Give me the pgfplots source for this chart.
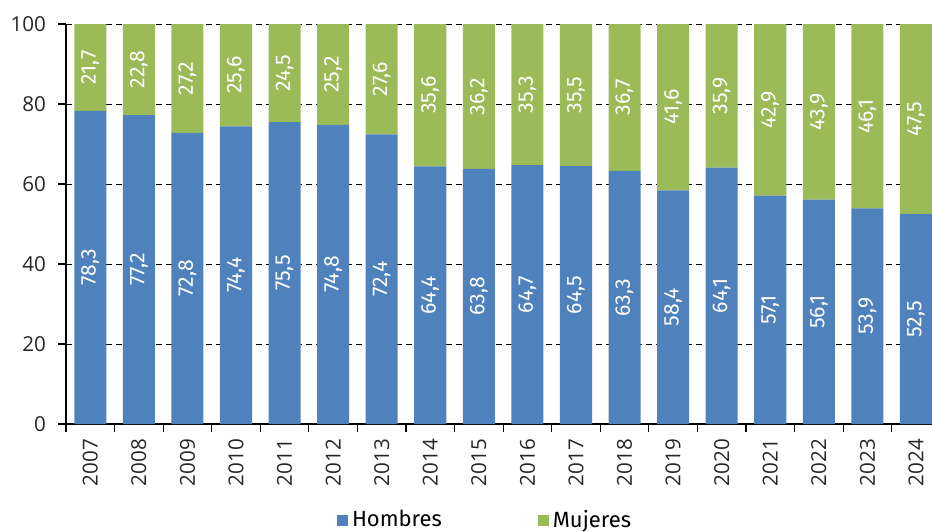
\documentclass[border=0pt]{standalone}
\usepackage{fontspec}
\setmainfont{Fira Sans}
\newfontfamily\tickfont{Open Sans}
\usepackage{pgfplots}
\usepackage{pgfplotstable}
\pgfplotsset{compat=1.18}
\definecolor{hblue}{HTML}{4F81BD}
\definecolor{mgreen}{HTML}{9BBB59}
\pgfplotstableread{
x h m
0 78.3 21.7
1 77.2 22.8
2 72.8 27.2
3 74.4 25.6
4 75.5 24.5
5 74.8 25.2
6 72.4 27.6
7 64.4 35.6
8 63.8 36.2
9 64.7 35.3
10 64.5 35.5
11 63.3 36.7
12 58.4 41.6
13 64.1 35.9
14 57.1 42.9
15 56.1 43.9
16 53.9 46.1
17 52.5 47.5
}\data
\begin{document}
\begin{tikzpicture}
\useasboundingbox (-33pt,-53.5pt) rectangle (433pt,212pt);
\begin{axis}[
  at={(0,0)}, anchor=south west,
  scale only axis, width=433pt, height=200pt,
  ybar stacked, bar width=0.66,
  xmin=-0.5, xmax=17.33, ymin=0, ymax=100,
  axis x line*=bottom, axis y line*=left,
  axis line style={-, black, line width=0.6pt},
  tick align=outside,
  ytick={0,20,...,100},
  ymajorgrids, grid style={black, line width=0.5pt, dash pattern=on 3pt off 2pt},
  xtick={0,...,17},
  xticklabels={2007,2008,2009,2010,2011,2012,2013,2014,2015,2016,2017,2018,2019,2020,2021,2022,2023,2024},
  major x tick style={draw=none},
  minor xtick={-0.5,0.5,...,16.5},
  minor x tick style={black, line width=0.6pt},
  minor tick length=4pt,
  major tick length=4pt,
  y tick style={black, line width=0.6pt},
  /pgf/number format/assume math mode=true,
  tick label style={font=\tickfont\fontsize{10.3}{12}\selectfont, text=black!85},
  yticklabel style={xshift=-2.5pt},
  xticklabel style={rotate=90, anchor=east, xshift=0pt},
  nodes near coords={\pgfmathprintnumber[fixed,fixed zerofill,precision=1,use comma,assume math mode=true]{\rawy}},
  visualization depends on=rawy\as\rawy,
  every node near coord/.append style={rotate=90, anchor=center, text=white, font=\fontsize{10.6}{12}\selectfont},
  legend columns=2,
  legend style={at={(0.485,-0.24)}, anchor=center, draw=none, fill=none,
    font=\fontsize{11}{13}\selectfont,
    /tikz/every even column/.append style={column sep=46pt}},
  legend image code/.code={\fill[#1] (0pt,-2.75pt) rectangle (5.5pt,2.75pt);},
]
\addplot[fill=hblue, draw=none] table[x=x, y=h] {\data};
\addplot[fill=mgreen, draw=none] table[x=x, y=m] {\data};
\legend{Hombres, Mujeres}
\end{axis}
\end{tikzpicture}
\end{document}
